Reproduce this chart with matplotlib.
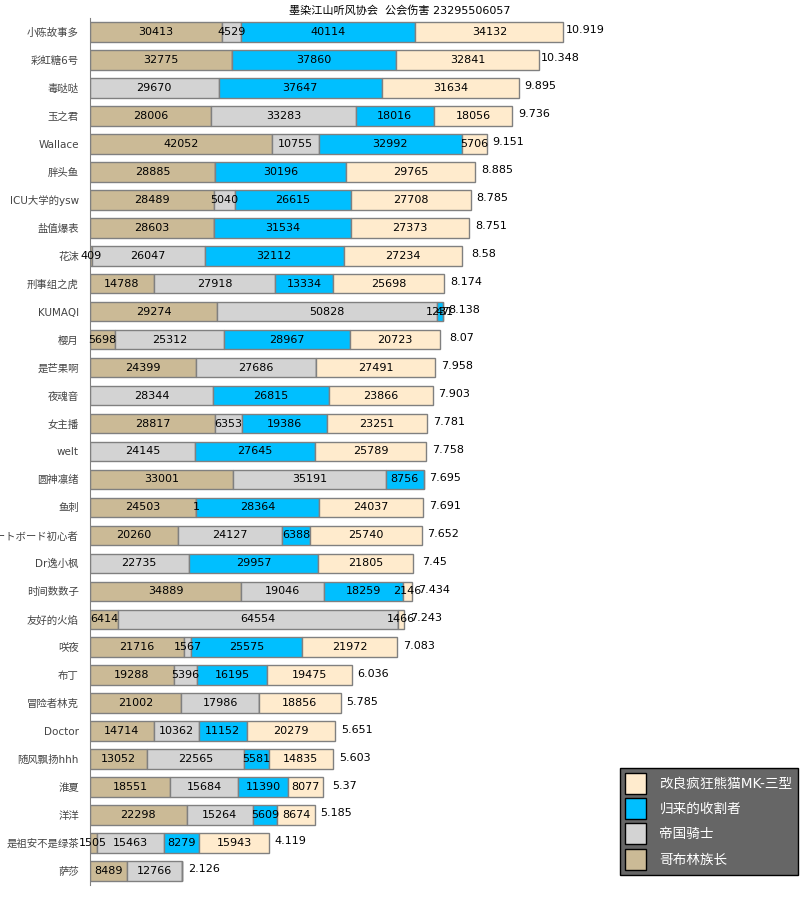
import numpy as np
import matplotlib
matplotlib.use('Agg')
import matplotlib.pyplot as plt
from matplotlib.patches import Patch

plt.rcParams['font.family'] = ['DejaVu Sans', 'Noto Sans CJK SC']

# players, top to bottom
names = ['小陈故事多', '彩虹糖6号', '毒哒哒', '玉之君', 'Wallace', '胖头鱼', 'ICU大学的ysw',
         '盐值爆表', '花沫', '刑事组之虎', 'KUMAQI', '樱月', '是芒果啊', '夜魂音', '女主播',
         'welt', '圆神凛绪', '鱼刺', 'スケートボード初心者', 'Dr逸小枫', '时间数数子', '友好的火焰',
         '咲夜', '布丁', '冒险者林克', 'Doctor', '随风飘扬hhh', '淮夏', '洋洋', '是祖安不是绿茶', '萨莎']

# damage per boss (left to right in each bar)
goblin = [30413, 32775, 0, 28006, 42052, 28885, 28489, 28603, 409, 14788, 29274, 5698, 24399, 0,
          28817, 0, 33001, 24503, 20260, 0, 34889, 6414, 21716, 19288, 21002, 14714, 13052,
          18551, 22298, 1505, 8489]
knight = [4529, 0, 29670, 33283, 10755, 0, 5040, 0, 26047, 27918, 50828, 25312, 27686, 28344,
          6353, 24145, 35191, 1, 24127, 22735, 19046, 64554, 1567, 5396, 17986, 10362, 22565,
          15684, 15264, 15463, 12766]
reaper = [40114, 37860, 37647, 18016, 32992, 30196, 26615, 31534, 32112, 13334, 1231, 28967, 0,
          26815, 19386, 27645, 8756, 28364, 6388, 29957, 18259, 0, 25575, 16195, 0, 11152, 5581,
          11390, 5609, 8279, 0]
panda = [34132, 32841, 31634, 18056, 5706, 29765, 27708, 27373, 27234, 25698, 47, 20723, 27491,
         23866, 23251, 25789, 0, 24037, 25740, 21805, 2146, 1466, 21972, 19475, 18856, 20279,
         14835, 8077, 8674, 15943, 0]
scores = ['10.919', '10.348', '9.895', '9.736', '9.151', '8.885', '8.785', '8.751', '8.58', '8.174',
          '8.138', '8.07', '7.958', '7.903', '7.781', '7.758', '7.695', '7.691', '7.652', '7.45',
          '7.434', '7.243', '7.083', '6.036', '5.785', '5.651', '5.603', '5.37', '5.185', '4.119',
          '2.126']

series = [('哥布林族长', goblin, '#CBBA96'),
          ('帝国骑士', knight, '#D3D3D3'),
          ('归来的收割者', reaper, '#00BFFF'),
          ('改良疯狂熊猫MK-三型', panda, '#FFEBCD')]

fig = plt.figure(figsize=(8, 9), dpi=100)
ax = fig.add_axes([90 / 800, 15 / 900, 710 / 800, 867 / 900])

y = np.arange(len(names))
left = np.zeros(len(names))
for label, vals, color in series:
    vals = np.array(vals, dtype=float)
    ax.barh(y, vals, left=left, height=0.7, color=color, edgecolor='#808080', linewidth=1)
    for i, v in enumerate(vals):
        if v > 0:
            ax.text(left[i] + v / 2, y[i], str(int(v)), ha='center', va='center', fontsize=8)
    left += vals

for i, s in enumerate(scores):
    ax.text(left[i] + 5000, y[i] + 0.05, s, ha='center', va='baseline', fontsize=8)

ax.set_xlim(0, left.max() * 1.5)
ax.set_ylim(len(names) - 0.5, -0.5)
ax.set_yticks(y)
ax.set_yticklabels(names, fontsize=7.5, color='#444444')
ax.tick_params(axis='y', length=0, pad=8)
ax.set_xticks([])
for side in ['top', 'right', 'bottom']:
    ax.spines[side].set_visible(False)
ax.spines['left'].set_color('#808080')

fig.text(0.5, 0.988, '墨染江山听风协会  公会伤害 23295506057', ha='center', va='center', fontsize=8)

handles = [Patch(facecolor=c, edgecolor='black', label=l) for l, v, c in series[::-1]]
leg = fig.legend(handles=handles, loc='lower right', bbox_to_anchor=(798 / 800, 25 / 900),
                 fontsize=9.8, frameon=True, fancybox=False, facecolor='#666666',
                 edgecolor='black', framealpha=1, handlelength=1.5, handleheight=2.0,
                 labelspacing=0.3, handletextpad=1.0, borderpad=0.4, borderaxespad=0)
for t in leg.get_texts():
    t.set_color('white')

fig.savefig('out.png', dpi=100)
